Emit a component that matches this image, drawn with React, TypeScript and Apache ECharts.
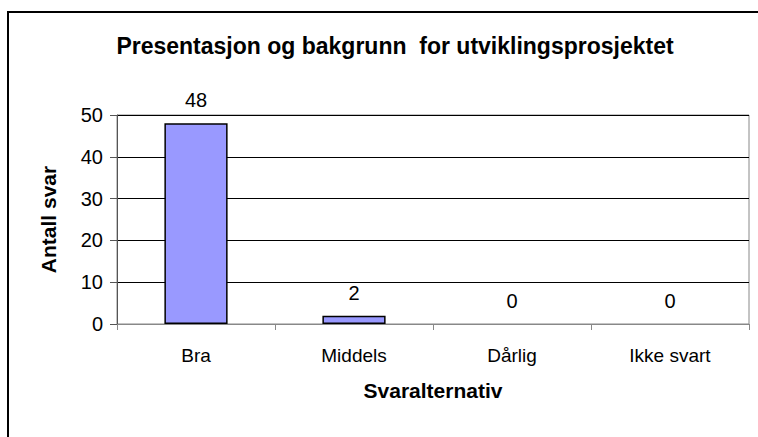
import React, { useEffect, useRef } from "react";
import * as echarts from "echarts";

const categories = ["Bra", "Middels", "Dårlig", "Ikke svart"];
const values = [48, 2, 0, 0];
const titleText = "Presentasjon og bakgrunn  for utviklingsprosjektet";
const yName = "Antall svar";
const xName = "Svaralternativ";

export default function App() {
  const ref = useRef<HTMLDivElement>(null);
  useEffect(() => {
    const chart = echarts.init(ref.current!, null, { renderer: "svg" });
    const font = "'Liberation Sans', Arial, sans-serif";
    chart.setOption({
      animation: false,
      backgroundColor: "#fff",
      textStyle: { fontFamily: font },
      title: {
        text: titleText,
        left: 390,
        textAlign: "center",
        top: 29,
        textStyle: { fontFamily: font, fontSize: 23, fontWeight: "bold", color: "#000" },
      },
      graphic: [
        {
          type: "rect",
          shape: { x: 8, y: 12, width: 780, height: 460 },
          style: { fill: "none", stroke: "#000", lineWidth: 2 },
          silent: true,
        },
      ],
      grid: {
        left: 117,
        top: 115,
        width: 632,
        height: 209,
        show: true,
        borderColor: "#888",
        borderWidth: 1,
        backgroundColor: "transparent",
      },
      xAxis: {
        type: "category",
        data: categories,
        name: xName,
        nameLocation: "middle",
        nameGap: 56,
        nameTextStyle: { fontFamily: font, fontSize: 21, fontWeight: "bold", color: "#000" },
        axisLine: { lineStyle: { color: "#888", width: 1 } },
        axisTick: { show: true, length: 6, lineStyle: { color: "#888" } },
        axisLabel: { margin: 22, fontFamily: font, fontSize: 19, color: "#000" },
      },
      yAxis: {
        type: "value",
        min: 0,
        max: 50,
        interval: 10,
        name: yName,
        nameLocation: "middle",
        nameGap: 58,
        nameTextStyle: { fontFamily: font, fontSize: 21, fontWeight: "bold", color: "#000" },
        axisLine: { show: true, lineStyle: { color: "#555", width: 1 } },
        axisTick: { show: true, length: 7, lineStyle: { color: "#555" } },
        axisLabel: { margin: 14, fontFamily: font, fontSize: 20, color: "#000" },
        splitLine: { show: true, lineStyle: { color: "#000", width: 1 } },
      },
      series: [
        {
          type: "bar",
          data: values.map((v) => ({
            value: v,
            itemStyle:
              v === 0 ? { borderWidth: 0, borderColor: "transparent", color: "transparent" } : undefined,
          })),
          barWidth: "40%",
          itemStyle: { color: "#9999FF", borderColor: "#000", borderWidth: 1.5 },
          label: {
            show: true,
            position: "top",
            distance: 13,
            fontFamily: font,
            fontSize: 20,
            color: "#000",
          },
        },
      ],
    });
    return () => chart.dispose();
  }, []);
  return (
    <div
      ref={ref}
      style={{ position: "absolute", left: 0, top: 0, width: 758, height: 437 }}
    />
  );
}
